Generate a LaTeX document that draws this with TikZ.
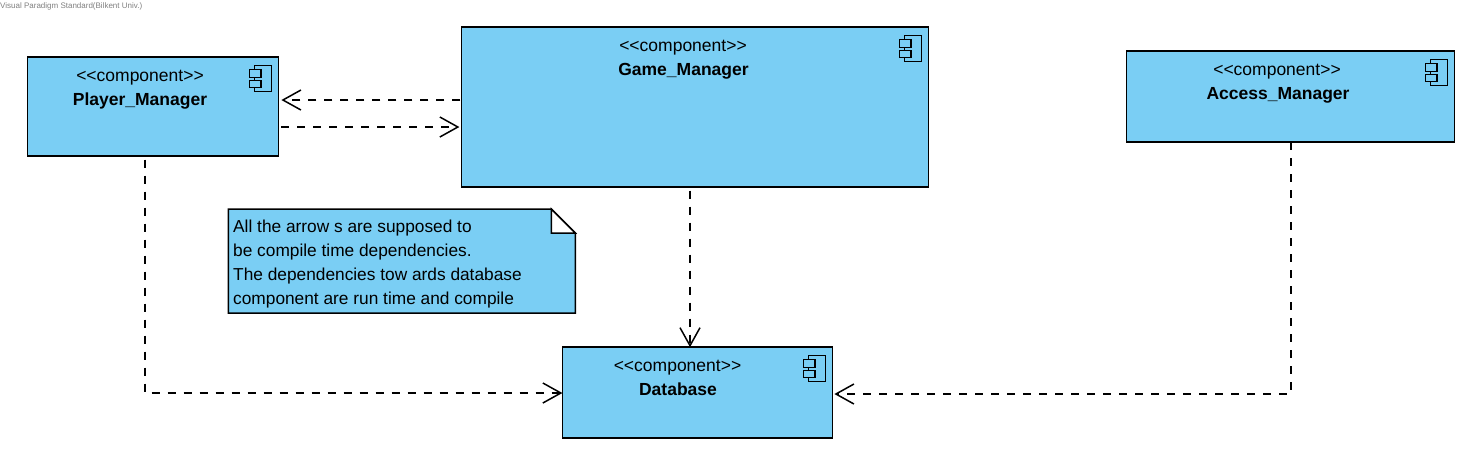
\documentclass[tikz,border=0pt]{standalone}
\usepackage{fontspec}
\setmainfont{Liberation Sans}
\usetikzlibrary{arrows.meta,calc}
\definecolor{boxblue}{HTML}{7ACEF4}
\tikzset{
  box/.style={draw=black,fill=boxblue,line width=1.5pt,rectangle,inner sep=0pt,outer sep=0pt},
  stereo/.style={inner sep=0pt,anchor=base,font=\fontsize{17.5}{20}\selectfont},
  title/.style={inner sep=0pt,anchor=base,font=\fontsize{17.5}{20}\selectfont\bfseries},
  icon/.style={draw=black,fill=boxblue,line width=1.3pt},
  dep/.style={draw=black,line width=1.3pt,dash pattern=on 8pt off 8pt,
    -{Straight Barb[length=18pt,width=20pt,line width=1.5pt]}},
}
\newcommand{\compicon}[1]{%
  \path[icon] ($(#1.north east)+(-24,8)$) rectangle ($(#1.north east)+(-7,34)$);
  \path[icon] ($(#1.north east)+(-29,12.5)$) rectangle ($(#1.north east)+(-17.5,20.5)$);
  \path[icon] ($(#1.north east)+(-29,23)$) rectangle ($(#1.north east)+(-17.5,30.5)$);
}
\newcommand{\stereotext}{<\kern0pt<component>\kern0pt>}
\begin{document}
\begin{tikzpicture}[x=1pt,y=-1pt]
\useasboundingbox (0,0) rectangle (1483,467);
\fill[white] (0,0) rectangle (1483,467);
\node[anchor=west,inner sep=0pt,text=black!50,font=\fontsize{8}{9}\selectfont] (wm) at (0,6.5) {Visual Paradigm Standard(Bilkent Univ.)};

\node[box,minimum width=251pt,minimum height=99pt] (pm) at (152.9,106.7) {};
\node[box,minimum width=467pt,minimum height=160pt] (gm) at (694.9,107.2) {};
\node[box,minimum width=328pt,minimum height=91pt] (am) at (1290.4,96.7) {};
\node[box,minimum width=270pt,minimum height=91pt] (db) at (697.4,392.7) {};

\compicon{pm}\compicon{gm}\compicon{am}\compicon{db}

\node[stereo] (pms) at (140,81) {\stereotext};
\node[title] (pmt) at (140,105) {Player\_Manager};
\node[stereo] (gms) at (683,51) {\stereotext};
\node[title] (gmt) at (683.5,75) {Game\_Manager};
\node[stereo] (ams) at (1277,75) {\stereotext};
\node[title] (amt) at (1278,99) {Access\_Manager};
\node[stereo] (dbs) at (677.5,371) {\stereotext};
\node[title] (dbt) at (678,395) {Database};

% note
\coordinate (nNW) at (228.4,209.2);
\coordinate (nSE) at (575.4,313.2);
\draw[fill=boxblue,line width=1.5pt,line join=miter] (nNW) -- (551.4,209.2) -- (575.4,233.2) -- (nSE) -- (228.4,313.2) -- cycle;
\draw[fill=white,line width=1.5pt] (551.4,209.2) -- (575.4,233.2) -- (551.4,233.2) -- cycle;
\node[anchor=north west,inner sep=0pt,align=left,font=\fontsize{17.3}{24}\selectfont] (note) at (233,220)
  {All the arrow s are supposed to\\be compile time dependencies.\\The dependencies tow ards database\\component are run time and compile};

% connectors
\coordinate (gmA) at ($(gm.west |- 0,100)+(-1,0)$);
\coordinate (pmA) at ($(pm.east |- 0,100)+(3,0)$);
\coordinate (pmB) at ($(pm.east |- 0,127)+(3,0)$);
\coordinate (gmB) at ($(gm.west |- 0,127)+(-2,0)$);
\coordinate (pmC) at ($(pm.south -| 145,0)+(0,3.5)$);
\coordinate (dbC) at (db.west |- 0,393);
\coordinate (gmD) at ($(gm.south -| 690,0)+(0,3.5)$);
\coordinate (dbD) at (db.north -| 690,0);
\coordinate (amE) at (am.south -| 1291,0);
\coordinate (dbE) at ($(db.east |- 0,394)+(2,0)$);

\draw[dep] (gmA) -- (pmA);
\draw[dep] (pmB) -- (gmB);
\draw[dep] (pmC) |- (dbC);
\draw[dep] (gmD) -- (dbD);
\draw[dep] (amE) |- (dbE);
\end{tikzpicture}
\end{document}
